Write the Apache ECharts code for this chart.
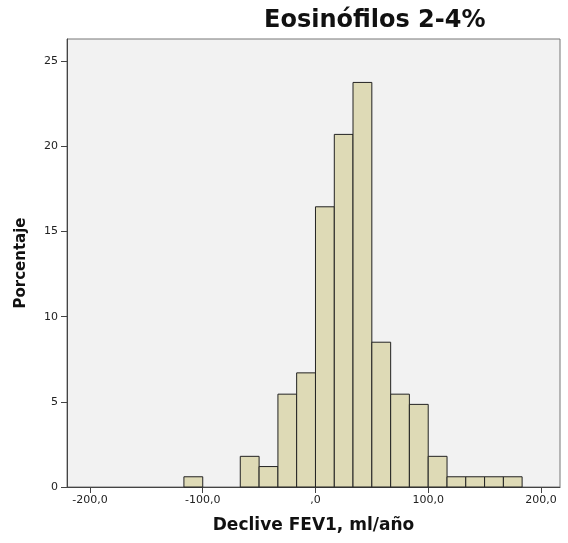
<!DOCTYPE html>
<html><head><meta charset="utf-8">
<script src="https://cdn.jsdelivr.net/npm/echarts@6/dist/echarts.min.js"></script>
<style>html,body{margin:0;padding:0;background:#fff}#c{width:568px;height:543px}</style>
</head><body><div id="c"></div>
<script>
// Histogram bins (ml/año) and percentages
const binLow  = [-116.7, -66.7, -50.0, -33.3, -16.7, 0.0, 16.7, 33.3, 50.0, 66.7, 83.3, 100.0, 116.7, 133.3, 150.0, 166.7];
const binHigh = [-100.0, -50.0, -33.3, -16.7, 0.0, 16.7, 33.3, 50.0, 66.7, 83.3, 100.0, 116.7, 133.3, 150.0, 166.7, 183.3];
const percent = [0.6, 1.8, 1.2, 5.45, 6.7, 16.45, 20.7, 23.75, 8.5, 5.45, 4.85, 1.8, 0.6, 0.6, 0.6, 0.6];
const xTicks = [-200, -100, 0, 100, 200];
const yTicks = [0, 5, 10, 15, 20, 25];

const data = binLow.map((l, i) => [l, binHigh[i], percent[i]]);
const font = '"DejaVu Sans", sans-serif';
const chart = echarts.init(document.getElementById('c'));
chart.setOption({
  animation: false,
  title: { text: 'Eosinófilos 2-4%', left: 259, top: 4,
    textStyle: { fontFamily: font, fontWeight: 'bold', fontSize: 24, color: '#111' } },
  grid: { left: 67, top: 39, right: 8, bottom: 56, show: true,
    backgroundColor: '#f2f2f2', borderColor: '#777', borderWidth: 1 },
  xAxis: { type: 'value', min: -220.4, max: 216.9,
    name: 'Declive FEV1, ml/año', nameLocation: 'middle', nameGap: 30,
    nameTextStyle: { fontFamily: font, fontWeight: 'bold', fontSize: 17, color: '#111' },
    axisLine: { show: true, onZero: false, lineStyle: { color: '#444' } },
    axisTick: { show: true, length: 6, lineStyle: { color: '#444' }, customValues: xTicks },
    axisLabel: { customValues: xTicks, fontFamily: font, fontSize: 11, color: '#222', margin: 8,
      formatter: v => v === 0 ? ',0' : v.toFixed(1).replace('.', ',') },
    splitLine: { show: false } },
  yAxis: { type: 'value', min: 0, max: 26.3,
    name: 'Porcentaje', nameLocation: 'middle', nameGap: 38,
    nameTextStyle: { fontFamily: font, fontWeight: 'bold', fontSize: 15, color: '#111' },
    axisLine: { show: true, onZero: false, lineStyle: { color: '#444' } },
    axisTick: { show: true, length: 6, lineStyle: { color: '#444' }, customValues: yTicks },
    axisLabel: { customValues: yTicks, fontFamily: font, fontSize: 11, color: '#222', margin: 9 },
    splitLine: { show: false } },
  series: [{
    type: 'custom',
    data: data,
    encode: { x: [0, 1], y: 2 },
    renderItem: function (params, api) {
      const p0 = api.coord([api.value(0), 0]);
      const p1 = api.coord([api.value(1), api.value(2)]);
      return { type: 'rect',
        shape: { x: p0[0], y: p1[1], width: p1[0] - p0[0], height: p0[1] - p1[1] },
        style: { fill: '#dedab6', stroke: '#222', lineWidth: 1 } };
    }
  }]
});
</script></body></html>
